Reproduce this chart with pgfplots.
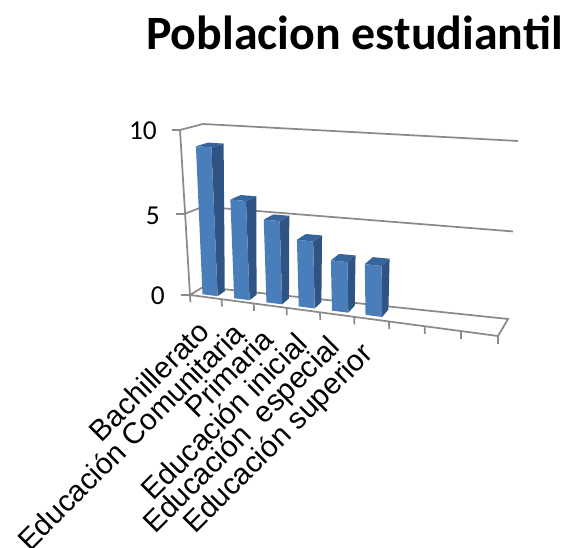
\documentclass[border=0pt]{standalone}
\usepackage{pgfplots}
\pgfplotsset{compat=1.18}
\usepackage{fontspec}
\setmainfont{Liberation Sans}
\newfontfamily\titlefont{Carlito}
\definecolor{barfront}{HTML}{4A7EBB}
\definecolor{barside}{HTML}{2F5483}
\definecolor{bartop}{HTML}{376499}
\definecolor{gridc}{HTML}{8A8A8A}
% projection of (category position c in 0..9, depth d in 0..1, value v in 0..10) onto the picture
\pgfplotsset{/pgfplots/table/proj/.style={
  /pgfplots/table/x expr={PX(\thisrow{c},\thisrow{d},\thisrow{v})},
  /pgfplots/table/y expr={PY(\thisrow{c},\thisrow{d},\thisrow{v})}}}
\newcommand\barfaces[3]{% c0, c1, value
  \addplot[draw=none,fill=barside] table[row sep=\\,proj]{c d v\\ #2 .24 0\\ #2 .80 0\\ #2 .80 #3\\ #2 .24 #3\\};
  \addplot[draw=none,fill=bartop] table[row sep=\\,proj]{c d v\\ #1 .24 #3\\ #2 .24 #3\\ #2 .80 #3\\ #1 .80 #3\\};
  \addplot[draw=none,fill=barfront] table[row sep=\\,proj]{c d v\\ #1 .24 0\\ #2 .24 0\\ #2 .24 #3\\ #1 .24 #3\\};
}
\newcommand\gridline[1]{\addplot[gridc,line width=1.3pt] table[row sep=\\,proj]{c d v\\ #1};}
\begin{document}
\begin{tikzpicture}[
  declare function={
    WW(\c,\v)=1-0.087*\c/9-0.029*\v/10;
    PX(\c,\d,\v)=(190+264.7*\c/9-15.2*\v/10+\d*(13-3.9*\c/9+9.31*\v/10))/WW(\c,\v);
    PY(\c,\d,\v)=-(295+11.8*\c/9-168.8*\v/10+\d*(-8-7.55*\c/9+2.2*\v/10))/WW(\c,\v);
  }]
\useasboundingbox (0,0) rectangle (426pt,411pt);
\begin{axis}[
  scale only axis,width=426pt,height=411pt,
  xmin=0,xmax=568,ymin=-548,ymax=0,
  hide axis,no markers,clip=true]
% walls and floor
\gridline{0 0 10\\ 0 1 10\\ 9 1 10\\}
\gridline{0 0 5\\ 0 1 5\\ 9 1 5\\}
\gridline{0 0 0\\ 0 1 0\\ 9 1 0\\ 9 0 0\\ 0 0 0\\}
\gridline{0 0 10\\ 0 0 0\\}
% ticks on the category axis
\gridline{0 0 0\\ 0 0 -0.45\\}
\gridline{1 0 0\\ 1 0 -0.45\\}
\gridline{2 0 0\\ 2 0 -0.45\\}
\gridline{3 0 0\\ 3 0 -0.45\\}
\gridline{4 0 0\\ 4 0 -0.45\\}
\gridline{5 0 0\\ 5 0 -0.45\\}
\gridline{6 0 0\\ 6 0 -0.45\\}
\gridline{7 0 0\\ 7 0 -0.45\\}
\gridline{8 0 0\\ 8 0 -0.45\\}
\gridline{9 0 0\\ 9 0 -0.45\\}
% bars: Bachillerato ... Educacion superior
\barfaces{0.30}{0.78}{9}
\barfaces{1.30}{1.78}{6}
\barfaces{2.30}{2.78}{5}
\barfaces{3.28}{3.76}{4}
\barfaces{4.27}{4.75}{3}
\barfaces{5.25}{5.73}{3}
\end{axis}
\begin{scope}[x=0.75pt,y=-0.75pt,yshift=411pt]
\draw[gridc,line width=1.3pt] (172,130)--(180,130) (176,214)--(185,214) (181,295)--(190,295);
\node[font=\titlefont\fontsize{20.5}{20.5}\selectfont,anchor=east,inner sep=0pt] at (157,131) {10};
\node[font=\titlefont\fontsize{20.5}{20.5}\selectfont,anchor=east,inner sep=0pt] at (160,216) {5};
\node[font=\titlefont\fontsize{20.5}{20.5}\selectfont,anchor=east,inner sep=0pt] at (165,296) {0};
\node[font=\titlefont\bfseries\fontsize{35.9}{36}\selectfont,anchor=center] at (354.5,33) {Poblacion estudiantil};
\foreach \t/\px/\py in {Bachillerato/204/326,Educación Comunitaria/239/328,Primaria/268/334,Educación inicial/302/338,Educación\ \ especial/336/343,Educación superior/369/350}
  \node[font=\fontsize{22.2}{22.2}\selectfont,anchor=east,rotate=45,inner sep=0pt] at (\px,\py) {\t};
\end{scope}
\end{tikzpicture}
\end{document}
